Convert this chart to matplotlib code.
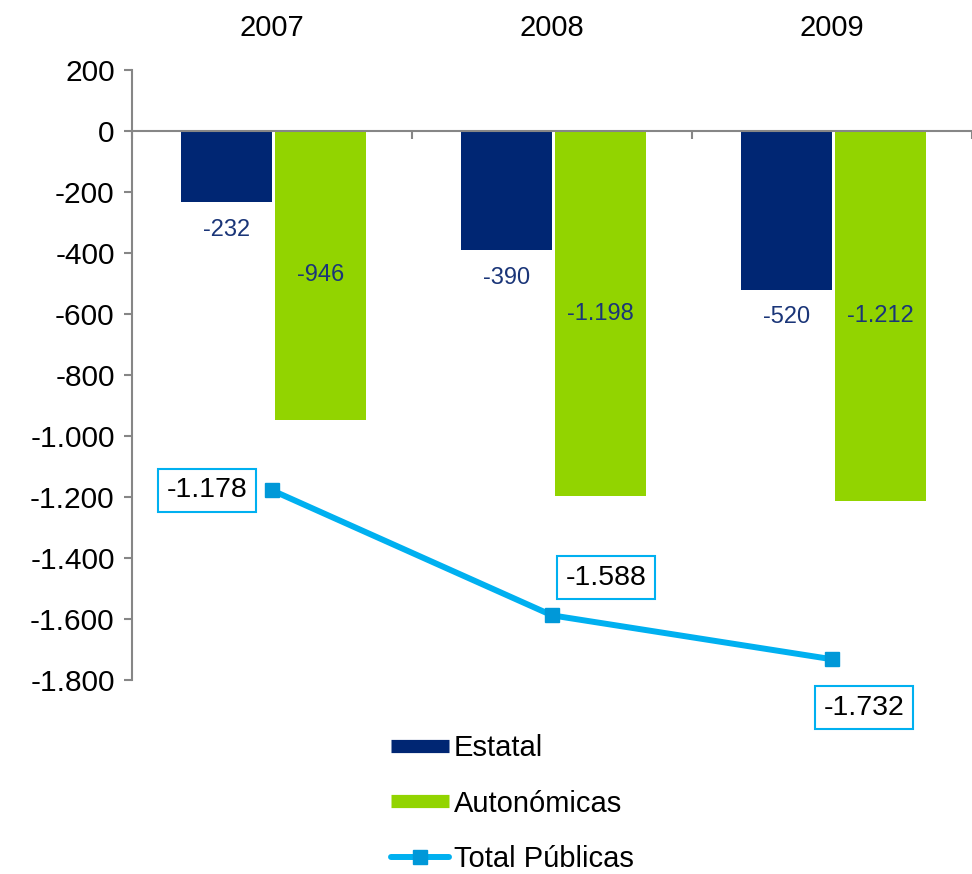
import matplotlib
matplotlib.use("Agg")
import matplotlib.pyplot as plt
import matplotlib.transforms as mtransforms
from matplotlib.lines import Line2D
import numpy as np

plt.rcParams['font.family'] = ['Liberation Sans', 'DejaVu Sans']

years = ["2007", "2008", "2009"]
estatal = [-232, -390, -520]
autonomicas = [-946, -1198, -1212]
total = [-1178, -1588, -1732]
yticks = list(range(-1800, 201, 200))

NAVY = "#002673"
GREEN = "#92D400"
CYAN = "#00B0F0"
MARK = "#0098D8"
LABEL = "#1A3578"
GRAY = "#868686"


def fmt(v):
    return f"{v:,.0f}".replace(",", ".")


fig = plt.figure(figsize=(9.72, 8.74), dpi=100)
ax = fig.add_axes([132 / 972, 1 - 680 / 874, 1 - 132 / 972, 610 / 874])

x = np.arange(len(years))
w = 0.325
b1 = ax.bar(x - 0.1625, estatal, width=w, color=NAVY, zorder=2)
b2 = ax.bar(x + 0.1735, autonomicas, width=w, color=GREEN, zorder=2)
ax.plot(x, total, color=CYAN, lw=4.3, marker='s', markersize=10,
        markerfacecolor=MARK, markeredgecolor=MARK, zorder=3)

ax.set_xlim(-0.5, 2.5)
ax.set_ylim(-1800, 200)
ax.set_yticks(yticks)
ax.set_yticklabels([fmt(v) for v in yticks], fontsize=21.5)
ax.tick_params(axis='y', direction='out', length=5.5, width=1.5, color=GRAY, pad=7)

for s in ['top', 'right']:
    ax.spines[s].set_visible(False)
ax.spines['left'].set_color(GRAY)
ax.spines['left'].set_linewidth(1.5)
ax.spines['bottom'].set_position(('data', 0))
ax.spines['bottom'].set_color(GRAY)
ax.spines['bottom'].set_linewidth(1.5)
ax.set_xticks([-0.5, 0.5, 1.5, 2.5])
ax.set_xticklabels([])
ax.tick_params(axis='x', direction='out', length=6, width=1.5, color=GRAY)

trans = mtransforms.blended_transform_factory(ax.transData, ax.transAxes)
for xi, yr in zip(x, years):
    ax.text(xi, 1 + 42 / 610, yr, transform=trans, ha='center', va='center',
            fontsize=21, color='black')

for rect, v in zip(b1, estatal):
    ax.annotate(fmt(v), (rect.get_x() + rect.get_width() / 2, v),
                xytext=(0, -20), textcoords='offset points',
                ha='center', va='center', fontsize=17, color=LABEL)
for rect, v in zip(b2, autonomicas):
    ax.annotate(fmt(v), (rect.get_x() + rect.get_width() / 2, v / 2),
                ha='center', va='center', fontsize=17, color=LABEL)

offsets = [(-47, 0), (39, 27), (23, -35)]
for xi, v, off in zip(x, total, offsets):
    ax.annotate(fmt(v), (xi, v), xytext=off, textcoords='offset points',
                ha='center', va='center', fontsize=20.5, color='black',
                bbox=dict(boxstyle='square,pad=0.3', fc='white', ec=CYAN, lw=1.5),
                zorder=4)

handles = [
    Line2D([], [], color=NAVY, lw=9.5, solid_capstyle='butt'),
    Line2D([], [], color=GREEN, lw=9.5, solid_capstyle='butt'),
    Line2D([], [], color=CYAN, lw=4.3, marker='s', markersize=10,
           markerfacecolor=MARK, markeredgecolor=MARK, solid_capstyle='round'),
]
fig.legend(handles, ["Estatal", "Autonómicas", "Total Públicas"],
           loc='upper left', bbox_to_anchor=(391 / 972, 1 - 734 / 874),
           frameon=False, fontsize=21, handlelength=2.0, handletextpad=0.15,
           labelspacing=0.95, borderpad=0, borderaxespad=0)

fig.savefig("out.png", dpi=100)
